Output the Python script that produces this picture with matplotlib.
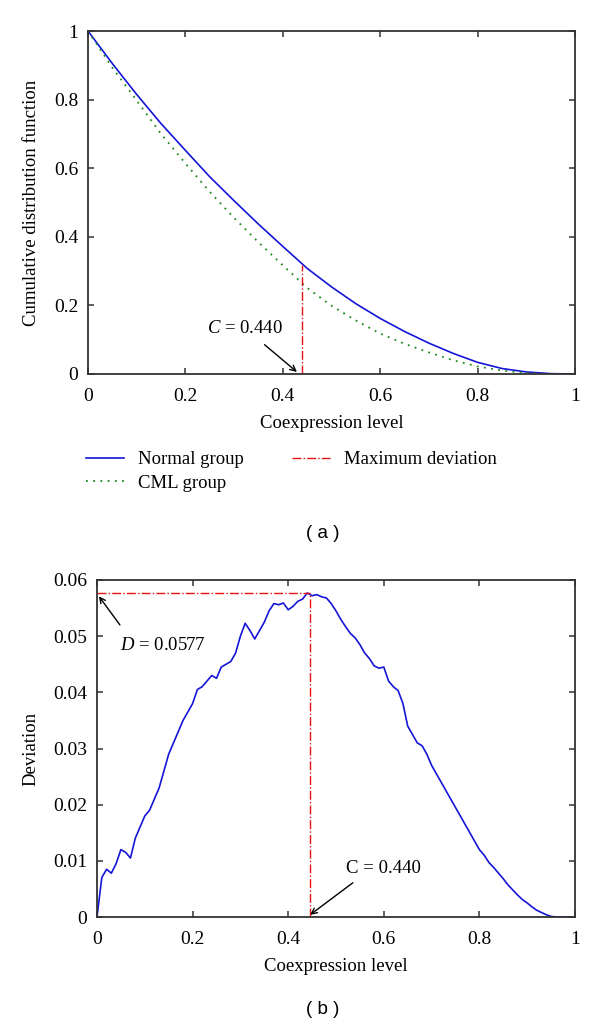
import matplotlib
matplotlib.use("Agg")
import matplotlib.pyplot as plt
from matplotlib.lines import Line2D

plt.rcParams['font.family'] = ['Liberation Serif', 'DejaVu Serif']
plt.rcParams['mathtext.fontset'] = 'custom'
plt.rcParams['mathtext.rm'] = 'Liberation Serif'
plt.rcParams['mathtext.it'] = 'Liberation Serif:italic'

# ---------------- data ----------------
cdf_x = [0.00, 0.05, 0.10, 0.15, 0.20, 0.25, 0.30, 0.35, 0.40, 0.45, 0.50,
         0.55, 0.60, 0.65, 0.70, 0.75, 0.80, 0.85, 0.90, 0.95, 1.00]
normal_group = [1.000, 0.905, 0.815, 0.730, 0.652, 0.575, 0.505, 0.437, 0.372, 0.308, 0.254,
                0.205, 0.162, 0.124, 0.090, 0.060, 0.034, 0.016, 0.006, 0.001, 0.000]
cml_group = [1.000, 0.893, 0.797, 0.700, 0.614, 0.531, 0.455, 0.384, 0.317, 0.251, 0.199,
             0.156, 0.118, 0.088, 0.063, 0.040, 0.022, 0.010, 0.003, 0.000, 0.000]

dev_x = [i / 100 for i in range(101)]
deviation = [0.0000, 0.0070, 0.0085, 0.0078, 0.0095, 0.0120, 0.0115, 0.0105, 0.0140, 0.0160,
             0.0180, 0.0190, 0.0210, 0.0230, 0.0260, 0.0290, 0.0310, 0.0330, 0.0350, 0.0365,
             0.0380, 0.0405, 0.0410, 0.0420, 0.0430, 0.0425, 0.0445, 0.0450, 0.0455, 0.0470,
             0.0500, 0.0523, 0.0510, 0.0495, 0.0510, 0.0525, 0.0545, 0.0558, 0.0556, 0.0559,
             0.0547, 0.0553, 0.0562, 0.0566, 0.0577, 0.0572, 0.0574, 0.0570, 0.0568, 0.0558,
             0.0545, 0.0530, 0.0517, 0.0505, 0.0497, 0.0485, 0.0470, 0.0460, 0.0447, 0.0443,
             0.0445, 0.0420, 0.0410, 0.0403, 0.0380, 0.0340, 0.0325, 0.0310, 0.0305, 0.0290,
             0.0270, 0.0255, 0.0240, 0.0225, 0.0210, 0.0195, 0.0180, 0.0165, 0.0150, 0.0135,
             0.0120, 0.0110, 0.0097, 0.0088, 0.0078, 0.0068, 0.0057, 0.0048, 0.0039, 0.0031,
             0.0025, 0.0018, 0.0012, 0.0008, 0.0004, 0.0001, 0.0000, 0.0000, 0.0000, 0.0000,
             0.0000]

c_value = 0.440
c_normal = 0.317
peak_x = 0.445
d_value = 0.0577

x_ticks = [0, 0.2, 0.4, 0.6, 0.8, 1]
x_ticklabels = ['0', '0.2', '0.4', '0.6', '0.8', '1']
top_yticks = [0, 0.2, 0.4, 0.6, 0.8, 1]
top_yticklabels = ['0', '0.2', '0.4', '0.6', '0.8', '1']
bot_yticks = [0, 0.01, 0.02, 0.03, 0.04, 0.05, 0.06]
bot_yticklabels = ['0', '0.01', '0.02', '0.03', '0.04', '0.05', '0.06']

# ---------------- styling ----------------
FS = 13.5
TFS = 14
BLUE = '#1515d8'
GREEN = '#1a8a1a'
RED = '#e81010'
SPINE = '#333333'

fig = plt.figure(figsize=(6, 10.25), dpi=100)
W, H = 600, 1025

def add_ax(l, t, r, b):
    return fig.add_axes([l / W, 1 - b / H, (r - l) / W, (b - t) / H])

def style(ax):
    for s in ax.spines.values():
        s.set_color(SPINE)
        s.set_linewidth(1.3)
    ax.tick_params(direction='in', length=4, width=1.1, color=SPINE,
                   top=True, right=True, labelsize=TFS)
    ax.tick_params(axis='x', pad=10)
    ax.tick_params(axis='y', pad=7)

# ---- panel (a) ----
ax1 = add_ax(88, 31, 575, 374)
ax1.plot(cdf_x, normal_group, color=BLUE, lw=1.2, label='Normal group')
ax1.plot(cdf_x, cml_group, color=GREEN, lw=1.3, linestyle=(0, (1, 3)), label='CML group')
ax1.plot([c_value, c_value], [0, c_normal], color=RED, lw=1.0, linestyle='-.',
         label='Maximum deviation')
ax1.set_xlim(0, 1)
ax1.set_ylim(0, 1)
ax1.set_xticks(x_ticks)
ax1.set_xticklabels(x_ticklabels)
ax1.set_yticks(top_yticks)
ax1.set_yticklabels(top_yticklabels)
ax1.set_xlabel('Coexpression level', fontsize=FS, labelpad=7)
ax1.set_ylabel('Cumulative distribution function', fontsize=FS, labelpad=10)
style(ax1)
ax1.annotate('$C$ = 0.440', xy=(0.429, 0.006), xytext=(0.322, 0.134),
             ha='center', va='center', fontsize=FS,
             arrowprops=dict(arrowstyle='->', color='black', lw=1.0,
                             shrinkA=6, shrinkB=0, mutation_scale=10))

handles = [Line2D([], [], color=BLUE, lw=1.2),
           Line2D([], [], color=GREEN, lw=1.3, linestyle=(0, (1, 3))),
           Line2D([], [], color=RED, lw=1.0, linestyle='-.')]
labels = ['Normal group', 'CML group', 'Maximum deviation']
fig.legend(handles, labels, loc='upper left', bbox_to_anchor=(86 / W, 1 - 451 / H),
           ncol=2, frameon=False, fontsize=FS, handlelength=2.0, handletextpad=0.75,
           columnspacing=2.6, labelspacing=0.35, borderpad=0, borderaxespad=0)

fig.text(323 / W, 1 - 533 / H, '( a )', ha='center', va='center', fontsize=13.5,
         family=['Liberation Sans', 'DejaVu Sans'])

# ---- panel (b) ----
ax2 = add_ax(97, 580, 575, 917)
ax2.plot(dev_x, deviation, color=BLUE, lw=1.2)
ax2.plot([0, peak_x], [d_value, d_value], color=RED, lw=1.0, linestyle='-.')
ax2.plot([peak_x, peak_x], [0, d_value], color=RED, lw=1.0, linestyle='-.')
ax2.set_xlim(0, 1)
ax2.set_ylim(0, 0.06)
ax2.set_xticks(x_ticks)
ax2.set_xticklabels(x_ticklabels)
ax2.set_yticks(bot_yticks)
ax2.set_yticklabels(bot_yticklabels)
ax2.set_xlabel('Coexpression level', fontsize=FS, labelpad=7)
ax2.set_ylabel('Deviation', fontsize=FS, labelpad=10)
style(ax2)
ax2.annotate('$D$ = 0.0577', xy=(0.004, 0.0571), xytext=(0.048, 0.0484),
             ha='left', va='center', fontsize=FS,
             arrowprops=dict(arrowstyle='->', color='black', lw=1.0,
                             shrinkA=8, shrinkB=0, mutation_scale=10,
                             relpos=(0.1, 1.0)))
ax2.annotate('C = 0.440', xy=(0.446, 0.0004), xytext=(0.521, 0.0087),
             ha='left', va='center', fontsize=FS,
             arrowprops=dict(arrowstyle='->', color='black', lw=1.0,
                             shrinkA=4, shrinkB=0, mutation_scale=10,
                             relpos=(0.2, 0.0)))

fig.text(323 / W, 1 - 1010 / H, '( b )', ha='center', va='center', fontsize=13.5,
         family=['Liberation Sans', 'DejaVu Sans'])

fig.savefig('out.png', dpi=100)
